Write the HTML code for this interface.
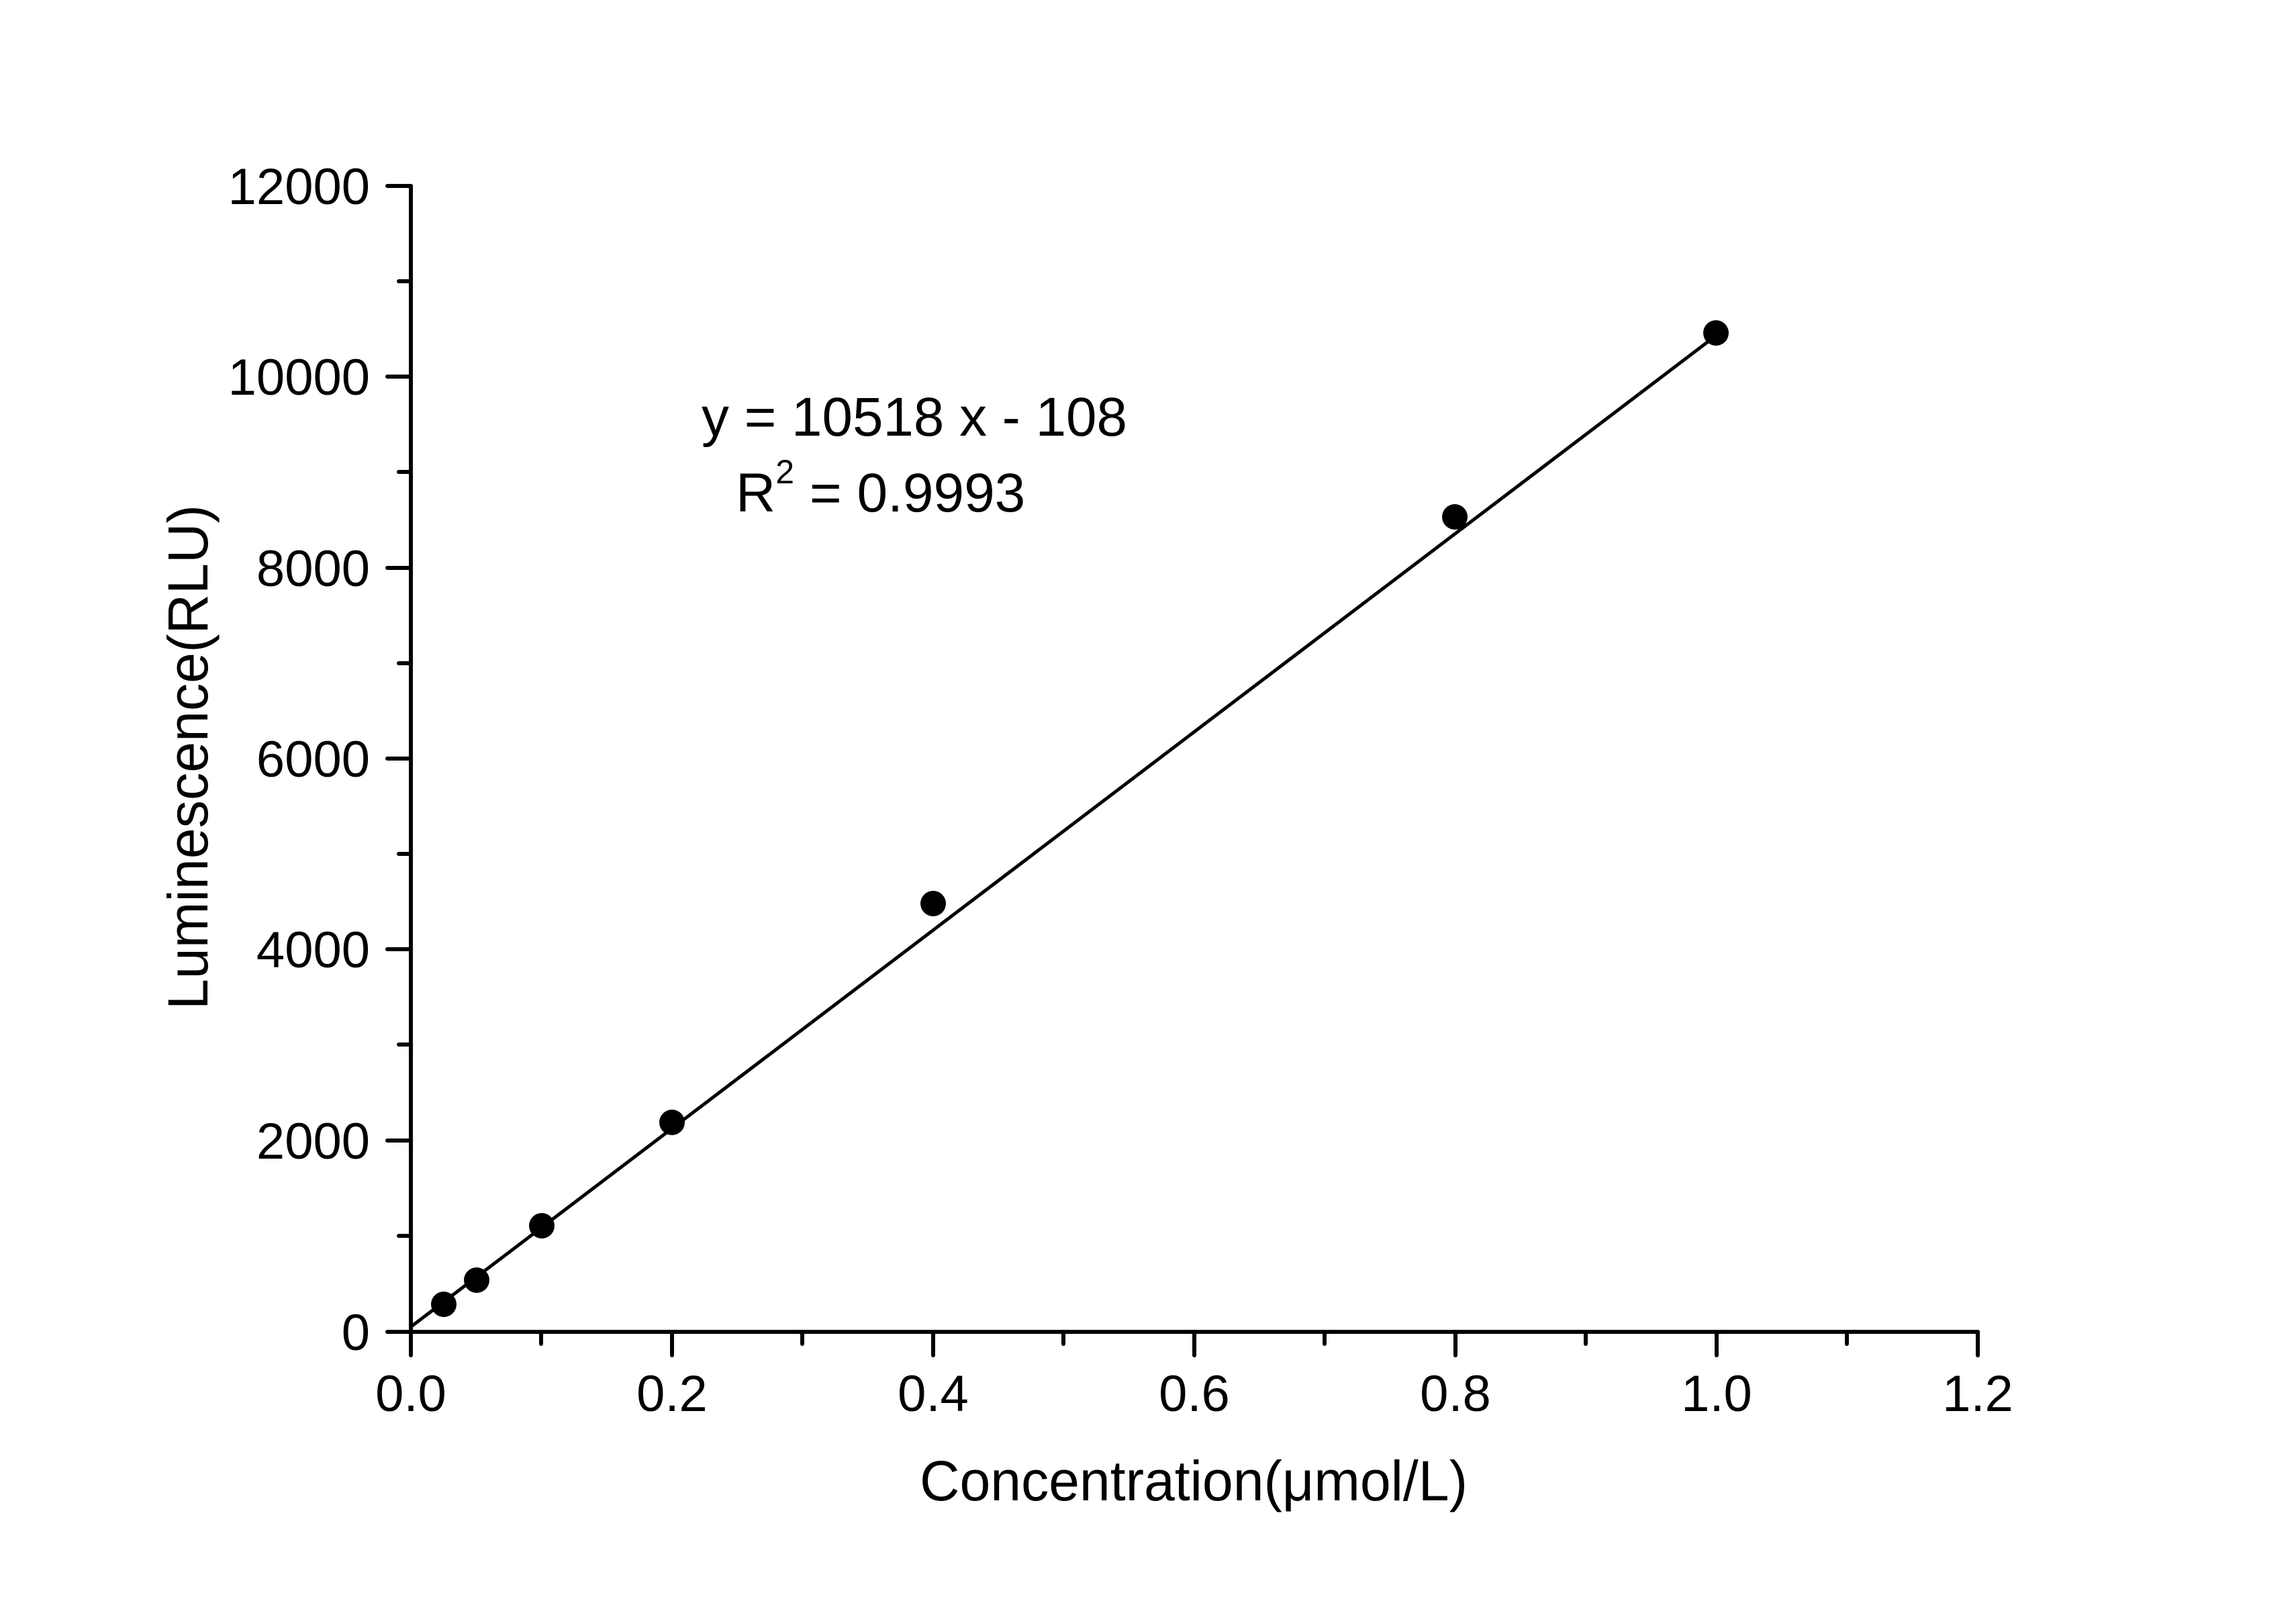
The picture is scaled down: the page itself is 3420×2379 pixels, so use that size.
<!DOCTYPE html>
<html><head><meta charset="utf-8"><style>html,body{margin:0;padding:0;background:#fff;}svg{display:block;}</style></head>
<body>
<svg width="3420" height="2379" viewBox="0 0 3420 2379" xmlns="http://www.w3.org/2000/svg" font-family="'Liberation Sans', Arial, sans-serif" fill="#000">
<rect width="3420" height="2379" fill="#fff"/>
<g stroke="#000" stroke-width="6" stroke-linecap="round">
<line x1="612" y1="277" x2="612" y2="1986"/>
<line x1="609" y1="1984" x2="2946" y2="1984"/>
<!-- y major ticks -->
<line x1="577" y1="277" x2="612" y2="277"/>
<line x1="577" y1="561" x2="612" y2="561"/>
<line x1="577" y1="846" x2="612" y2="846"/>
<line x1="577" y1="1130" x2="612" y2="1130"/>
<line x1="577" y1="1414" x2="612" y2="1414"/>
<line x1="577" y1="1699" x2="612" y2="1699"/>
<line x1="577" y1="1984" x2="612" y2="1984"/>
<!-- y minor -->
<line x1="594" y1="419" x2="612" y2="419"/>
<line x1="594" y1="703" x2="612" y2="703"/>
<line x1="594" y1="988" x2="612" y2="988"/>
<line x1="594" y1="1272" x2="612" y2="1272"/>
<line x1="594" y1="1556" x2="612" y2="1556"/>
<line x1="594" y1="1841" x2="612" y2="1841"/>
<!-- x major -->
<line x1="612" y1="1984" x2="612" y2="2019"/>
<line x1="1001" y1="1984" x2="1001" y2="2019"/>
<line x1="1390" y1="1984" x2="1390" y2="2019"/>
<line x1="1779" y1="1984" x2="1779" y2="2019"/>
<line x1="2168" y1="1984" x2="2168" y2="2019"/>
<line x1="2557" y1="1984" x2="2557" y2="2019"/>
<line x1="2946" y1="1984" x2="2946" y2="2019"/>
<!-- x minor -->
<line x1="806" y1="1984" x2="806" y2="2002"/>
<line x1="1195" y1="1984" x2="1195" y2="2002"/>
<line x1="1584" y1="1984" x2="1584" y2="2002"/>
<line x1="1973" y1="1984" x2="1973" y2="2002"/>
<line x1="2362" y1="1984" x2="2362" y2="2002"/>
<line x1="2751" y1="1984" x2="2751" y2="2002"/>
<!-- fit line -->
<line x1="614" y1="1975" x2="2556" y2="500" stroke-width="5"/>
</g>
<g>
<circle cx="661" cy="1943" r="19"/>
<circle cx="710" cy="1907" r="19"/>
<circle cx="807" cy="1826" r="19"/>
<circle cx="1001" cy="1672" r="19"/>
<circle cx="1390" cy="1346" r="19"/>
<circle cx="2167" cy="770" r="19"/>
<circle cx="2556" cy="496" r="19"/>
</g>
<g font-size="76" text-anchor="end">
<text x="551" y="304">12000</text>
<text x="551" y="588">10000</text>
<text x="551" y="873">8000</text>
<text x="551" y="1157">6000</text>
<text x="551" y="1441">4000</text>
<text x="551" y="1726">2000</text>
<text x="551" y="2011">0</text>
</g>
<g font-size="76" text-anchor="middle">
<text x="612" y="2102">0.0</text>
<text x="1001" y="2102">0.2</text>
<text x="1390" y="2102">0.4</text>
<text x="1779" y="2102">0.6</text>
<text x="2168" y="2102">0.8</text>
<text x="2557" y="2102">1.0</text>
<text x="2946" y="2102">1.2</text>
</g>
<text x="1370" y="2235" font-size="84" textLength="816" lengthAdjust="spacingAndGlyphs">Concentration(μmol/L)</text>
<text transform="translate(309,1504) rotate(-90)" font-size="84" textLength="752" lengthAdjust="spacingAndGlyphs">Luminescence(RLU)</text>
<text x="1045" y="649" font-size="82" textLength="634" lengthAdjust="spacingAndGlyphs">y = 10518 x - 108</text>
<text x="1096" y="762" font-size="82">R<tspan font-size="50" dy="-42">2</tspan><tspan dy="42"> = 0.9993</tspan></text>
</svg>
</body></html>
